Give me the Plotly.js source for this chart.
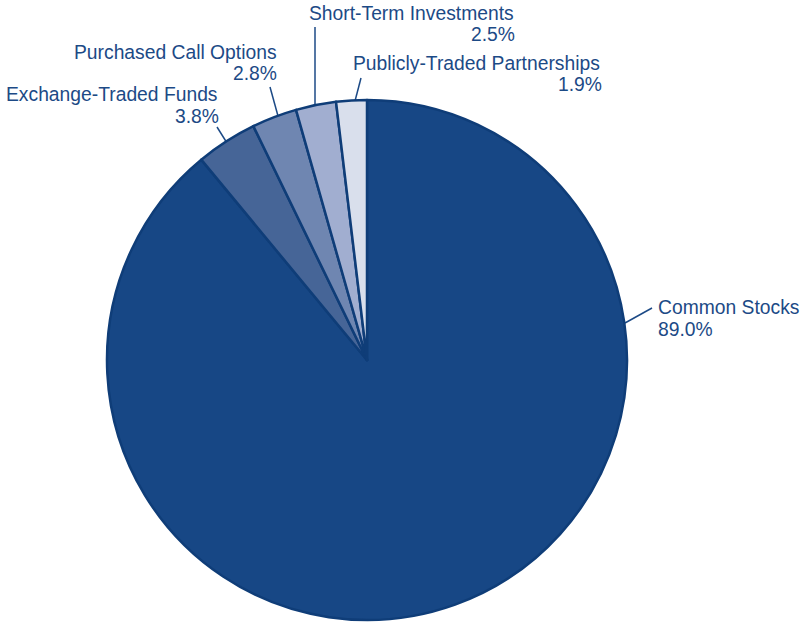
<!DOCTYPE html>
<html>
<head>
<meta charset="utf-8">
<script src="https://cdn.plot.ly/plotly-3.0.1.min.js"></script>
<style>html,body{margin:0;padding:0;background:#fff;}#chart{width:809px;height:622px;}</style>
</head>
<body>
<div id="chart"></div>
<script>
// Data
const categories = ["Common Stocks", "Exchange-Traded Funds", "Purchased Call Options", "Short-Term Investments", "Publicly-Traded Partnerships"];
const values = [89.0, 3.8, 2.8, 2.5, 1.9];
const valueLabels = ["89.0%", "3.8%", "2.8%", "2.5%", "1.9%"];

// Styles / layout config
const W = 809, H = 622;
const sliceColors = ["#174785", "#466597", "#6f86b1", "#a1aed0", "#d9dfec"];
const textColor = "#1c4a86";
const fontFam = "Liberation Sans, Arial, Helvetica, sans-serif";
const fontSize = 19.3;
const cx = 367, cy = 360, r = 260;

// label placement in pixels: [nameX, nameY, valueX, valueY, anchor]
const labelPos = [
  [656, 307, 656, 329, "left"],
  [220, 94, 221, 116, "right"],
  [279, 52, 279, 73, "right"],
  [307, 14, 517, 35, "left_right"],
  [351, 64, 604, 85, "left_right"]
];
// leader lines in pixels: [x0,y0,x1,y1]
const leaders = [
  [625, 323, 652, 308],
  [217, 127, 227, 143],
  [270, 87, 278, 116],
  [315, 27, 315, 105],
  [361, 78, 355, 101]
];

const px = x => x / W;
const py = y => 1 - y / H;

const annotations = [];
categories.forEach((c, i) => {
  const p = labelPos[i];
  let a1 = p[4] === "left" ? "left" : (p[4] === "right" ? "right" : "left");
  let a2 = p[4] === "left" ? "left" : "right";
  annotations.push({xref: "paper", yref: "paper", x: px(p[0]), y: py(p[1]), text: c, showarrow: false,
    xanchor: a1, yanchor: "middle", font: {family: fontFam, size: fontSize, color: textColor}});
  annotations.push({xref: "paper", yref: "paper", x: px(p[2]), y: py(p[3]), text: valueLabels[i], showarrow: false,
    xanchor: a2, yanchor: "middle", font: {family: fontFam, size: fontSize, color: textColor}});
});

const shapes = leaders.map(l => ({type: "line", xref: "paper", yref: "paper",
  x0: px(l[0]), y0: py(l[1]), x1: px(l[2]), y1: py(l[3]),
  line: {color: textColor, width: 1.5}, layer: "below"}));

const trace = {
  type: "pie",
  labels: categories,
  values: values,
  sort: false,
  direction: "clockwise",
  rotation: 0,
  textinfo: "none",
  hoverinfo: "label+percent",
  marker: {colors: sliceColors, line: {color: "#0f3d78", width: 2.5}},
  domain: {x: [px(cx - r), px(cx + r)], y: [py(cy + r), py(cy - r)]},
  showlegend: false
};

const layout = {
  width: W, height: H,
  margin: {l: 0, r: 0, t: 0, b: 0},
  paper_bgcolor: "#ffffff",
  plot_bgcolor: "#ffffff",
  showlegend: false,
  annotations: annotations,
  shapes: shapes
};

Plotly.newPlot("chart", [trace], layout, {displayModeBar: false, staticPlot: true});
</script>
</body>
</html>
